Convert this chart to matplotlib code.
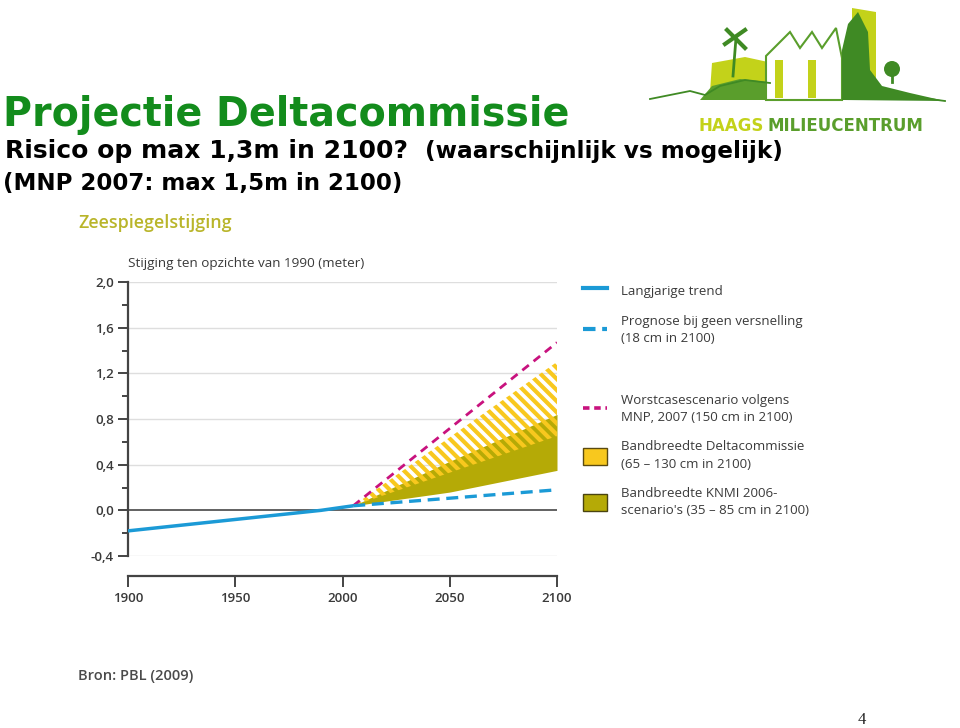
import matplotlib
matplotlib.use("Agg")
import matplotlib.pyplot as plt
from matplotlib.lines import Line2D
from matplotlib.patches import Patch, Polygon, Rectangle, Circle

# sea level rise relative to 1990 (meter)
trend_years = [1900, 1950, 1990, 2005]
trend_values = [-0.18, -0.08, 0.0, 0.04]

proj_years = [2005, 2100]
no_accel_values = [0.04, 0.18]
worst_case_values = [0.04, 1.47]

band_years = [2005, 2050, 2100]
knmi_low = [0.04, 0.16, 0.35]
knmi_high = [0.04, 0.43, 0.84]
delta_low = [0.04, 0.33, 0.65]
delta_high = [0.04, 0.64, 1.30]

y_ticks = [-0.4, 0.0, 0.4, 0.8, 1.2, 1.6, 2.0]
x_ticks = [1900, 1950, 2000, 2050, 2100]

legend_labels = [
    "Langjarige trend",
    "Prognose bij geen versnelling\n(18 cm in 2100)",
    "Worstcasescenario volgens\nMNP, 2007 (150 cm in 2100)",
    "Bandbreedte Deltacommissie\n(65 \u2013 130 cm in 2100)",
    "Bandbreedte KNMI 2006-\nscenario's (35 \u2013 85 cm in 2100)",
]

BLUE = "#1b9ad6"
MAGENTA = "#c8127e"
YELLOW = "#f8c81e"
OLIVE = "#b5aa06"
GREY = "#444444"
TEXT = "#3a3a3a"

W, H = 960, 728
plt.rcParams["hatch.linewidth"] = 3.0

fig = plt.figure(figsize=(W / 100, H / 100), dpi=100)
renderer = fig.canvas.get_renderer()


def fx(px):
    return px / W


def fy(py):
    return 1 - py / H


# slide titles
fig.text(fx(3), fy(126), "Projectie Deltacommissie", fontsize=28.5, fontweight="bold",
         color="#138c1c", family="DejaVu Sans", va="baseline")
fig.text(fx(5), fy(158), "Risico op max 1,3m in 2100?", fontsize=18, fontweight="bold",
         color="black", family="DejaVu Sans", va="baseline")
fig.text(fx(425), fy(158), "(waarschijnlijk vs mogelijk)", fontsize=16.7, fontweight="bold",
         color="black", family="DejaVu Sans", va="baseline")
fig.text(fx(3), fy(190), "(MNP 2007: max 1,5m in 2100)", fontsize=16.5, fontweight="bold",
         color="black", family="DejaVu Sans", va="baseline")

# chart
ax = fig.add_axes([fx(128), fy(556), (557 - 128) / W, (556 - 282) / H])
ax.set_xlim(1900, 2100)
ax.set_ylim(-0.4, 2.0)

for y in y_ticks:
    if y == 0.0:
        ax.axhline(y, color="#555555", lw=1.3, zorder=1)
    else:
        ax.axhline(y, color="#dedede", lw=1.0, zorder=0)

ax.fill_between(band_years, knmi_low, knmi_high, color=OLIVE, lw=0, zorder=2)
ax.fill_between(band_years, delta_low, delta_high, facecolor="none", edgecolor=YELLOW,
                hatch="\\\\\\", lw=0, zorder=3)
ax.plot(proj_years, worst_case_values, color=MAGENTA, lw=2.0, dashes=(3.0, 2.2), zorder=4)
ax.plot(proj_years, no_accel_values, color=BLUE, lw=2.4, dashes=(3.6, 2.0), zorder=4)
ax.plot(trend_years, trend_values, color=BLUE, lw=2.5, zorder=5, solid_capstyle="butt")

for side in ["top", "right"]:
    ax.spines[side].set_visible(False)
ax.spines["left"].set_color(GREY)
ax.spines["left"].set_linewidth(1.6)
ax.spines["bottom"].set_color(GREY)
ax.spines["bottom"].set_linewidth(1.6)
ax.spines["bottom"].set_position(("outward", 14.5))

ax.set_yticks(y_ticks)
ax.set_yticklabels([f"{v:.1f}".replace(".", ",") for v in y_ticks])
ax.set_yticks([-0.2, 0.2, 0.6, 1.0, 1.4, 1.8], minor=True)
ax.set_xticks(x_ticks)
ax.set_xticklabels([str(v) for v in x_ticks])
ax.tick_params(axis="y", which="major", direction="out", length=7, width=1.4, color=GREY,
               pad=3, labelsize=9.5, labelcolor=TEXT)
ax.tick_params(axis="y", which="minor", direction="out", length=4.3, width=1.4, color=GREY)
ax.tick_params(axis="x", direction="out", length=8, width=1.4, color=GREY, pad=3.5,
               labelsize=9.5, labelcolor=TEXT)
for lab in ax.get_xticklabels() + ax.get_yticklabels():
    lab.set_family("Open Sans")
    lab.set_fontweight("semibold")

fig.text(fx(78), fy(228), "Zeespiegelstijging", fontsize=12.9, fontweight="semibold",
         color="#b9b52a", family="Open Sans", va="baseline")
fig.text(fx(128), fy(267), "Stijging ten opzichte van 1990 (meter)", fontsize=9.7,
         color=TEXT, family="Open Sans", va="baseline")
fig.text(fx(78), fy(680), "Bron: PBL (2009)", fontsize=10.5, fontweight="semibold",
         color="#4a4a4a", family="Open Sans", va="baseline")
fig.text(fx(858), fy(724), "4", fontsize=12, color="#222222", family="Liberation Serif",
         va="baseline")

# legend
handles = [
    Line2D([], [], color=BLUE, lw=3),
    Line2D([], [], color=BLUE, lw=3, dashes=(3, 1.6)),
    Line2D([], [], color="none"),
    Line2D([], [], color=MAGENTA, lw=2.6, dashes=(1.8, 1.3)),
    Patch(facecolor=YELLOW, edgecolor="#5a4a10", lw=1.0),
    Patch(facecolor=OLIVE, edgecolor="#4a4410", lw=1.0),
]
labels = [legend_labels[0], legend_labels[1], " ", legend_labels[2],
          legend_labels[3], legend_labels[4]]
leg = fig.legend(handles, labels, loc="upper left", bbox_to_anchor=(fx(583), fy(282)),
                 frameon=False, borderpad=0, borderaxespad=0, handlelength=1.8,
                 handleheight=1.6, handletextpad=1.05, labelspacing=1.2,
                 prop={"family": "Open Sans", "size": 9.5}, labelcolor=TEXT)
for t in leg.get_texts():
    t.set_linespacing(1.45)

# Haags Milieucentrum logo (simplified)
lg = fig.add_axes([fx(645), fy(140), 305 / W, 140 / H])
lg.set_xlim(645, 950)
lg.set_ylim(140, 0)
lg.axis("off")
LIGHT = "#c3d21a"
GREEN = "#5a9e2c"
DARK = "#3f8a24"
lg.add_patch(Polygon([(710, 92), (712, 63), (745, 57), (768, 62), (768, 92)], color=LIGHT, lw=0))
lg.add_patch(Polygon([(852, 8), (876, 12), (876, 86), (852, 86)], color=LIGHT, lw=0))
lg.add_patch(Polygon([(700, 100), (712, 86), (740, 79), (768, 82), (770, 100)], color=GREEN, lw=0))
lg.add_patch(Polygon([(766, 100), (766, 56), (790, 32), (800, 48), (812, 32), (822, 48),
                      (836, 28), (842, 58), (842, 100)], facecolor="white",
                     edgecolor=GREEN, lw=1.5))
for wx in (775, 808):
    lg.add_patch(Rectangle((wx, 60), 8, 38, color=LIGHT, lw=0))
lg.add_patch(Polygon([(842, 100), (842, 50), (848, 24), (858, 12), (868, 32), (870, 70),
                      (882, 86), (910, 93), (945, 101)], color=DARK, lw=0))
lg.add_patch(Circle((892, 69), 8, color=DARK, lw=0))
lg.plot([892, 892], [70, 82], color=DARK, lw=2)
lg.plot([733, 736], [76, 38], color=DARK, lw=2)
lg.plot([727, 745], [30, 48], color=DARK, lw=3)
lg.plot([725, 745], [44, 30], color=DARK, lw=3)
lg.plot([650, 670, 690, 705, 720, 745, 770], [99, 95, 91, 95, 86, 80, 83], color=DARK, lw=1.3)
lg.plot([870, 900, 945], [92, 95, 101], color=DARK, lw=1.3)

logo_font = ["Liberation Sans Narrow", "DejaVu Sans Condensed", "DejaVu Sans"]
t1 = fig.text(fx(698), fy(131), "HAAGS", fontsize=13, fontweight="bold", color=LIGHT,
              family=logo_font, va="baseline")
w1 = t1.get_window_extent(renderer).width
t2 = fig.text(fx(698 + w1 + 4), fy(131), "MILIEUCENTRUM", fontsize=13, fontweight="bold",
              color=GREEN, family=logo_font, va="baseline")
w2 = t2.get_window_extent(renderer).width
scale = (922 - 698) / (w1 + 4 + w2)
if scale < 1:
    t1.set_fontsize(13 * scale)
    w1 = t1.get_window_extent(renderer).width
    t2.set_fontsize(13 * scale)
    t2.set_x(fx(698 + w1 + 4))

fig.savefig("out.png", dpi=100)
